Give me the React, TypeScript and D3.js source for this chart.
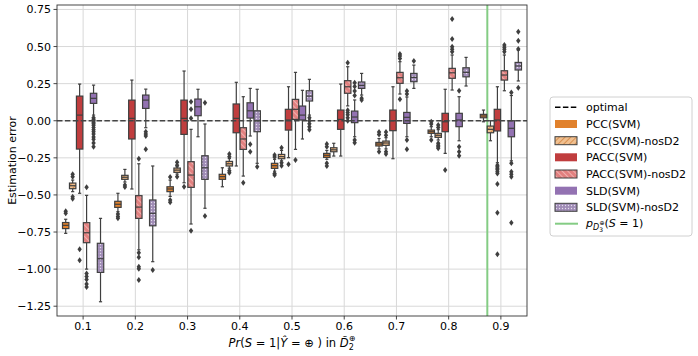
import * as d3 from 'd3'

const categories = ['0.1', '0.2', '0.3', '0.4', '0.5', '0.6', '0.7', '0.8', '0.9']
const methods = ['PCC(SVM)', 'PCC(SVM)-nosD2', 'PACC(SVM)', 'PACC(SVM)-nosD2', 'SLD(SVM)', 'SLD(SVM)-nosD2']
const yTickValues = [-1.25, -1.0, -0.75, -0.5, -0.25, 0.0, 0.25, 0.5, 0.75]
const prevalenceD3 = 0.874

// [whisker low, q1, median, q3, whisker high] per category
const pccStats = [
  [-0.759, -0.727, -0.705, -0.686, -0.664],
  [-0.613, -0.584, -0.563, -0.543, -0.489],
  [-0.51, -0.478, -0.46, -0.445, -0.4],
  [-0.445, -0.395, -0.377, -0.361, -0.317],
  [-0.34, -0.321, -0.303, -0.287, -0.26],
  [-0.26, -0.247, -0.233, -0.22, -0.2],
  [-0.19, -0.17, -0.157, -0.146, -0.12],
  [-0.108, -0.085, -0.074, -0.063, -0.04],
  [-0.007, 0.02, 0.032, 0.043, 0.072],
]
const pccOutliers = [
  [-0.61, -0.624],
  [-0.629, -0.645, -0.658],
  [-0.38, -0.535, -0.55],
  [],
  [-0.231, -0.245, -0.355, -0.366],
  [-0.157, -0.175, -0.287, -0.305],
  [-0.076, -0.092, -0.209],
  [-0.007, -0.022, -0.13],
  [],
]

const pccNosStats = [
  [-0.478, -0.458, -0.438, -0.42, -0.4],
  [-0.413, -0.395, -0.381, -0.368, -0.328],
  [-0.36, -0.348, -0.333, -0.319, -0.31],
  [-0.32, -0.305, -0.29, -0.274, -0.255],
  [-0.27, -0.256, -0.242, -0.227, -0.2],
  [-0.238, -0.209, -0.196, -0.182, -0.152],
  [-0.19, -0.166, -0.15, -0.137, -0.114],
  [-0.13, -0.112, -0.098, -0.085, -0.06],
  [-0.135, -0.081, -0.058, -0.036, 0.0],
]
const pccNosOutliers = [
  [-0.361, -0.377, -0.512, -0.526],
  [-0.433, -0.447],
  [-0.28, -0.3, -0.377],
  [-0.224, -0.243, -0.337, -0.35],
  [-0.182, -0.283, -0.303],
  [],
  [-0.076, -0.097, -0.209, -0.224],
  [-0.029, -0.045, -0.152, -0.165, -0.176, -0.186],
  [],
]

const paccStats = [
  [-0.489, -0.191, 0.038, 0.166, 0.247],
  [-0.46, -0.123, 0.016, 0.139, 0.274],
  [-0.418, -0.092, 0.016, 0.139, 0.335],
  [-0.305, -0.081, 0.016, 0.113, 0.259],
  [-0.249, -0.063, 0.005, 0.077, 0.229],
  [-0.238, -0.058, 0.009, 0.072, 0.247],
  [-0.256, -0.067, 0.0, 0.072, 0.229],
  [-0.22, -0.074, -0.007, 0.05, 0.212],
  [-0.283, -0.069, 0.005, 0.077, 0.229],
]
const paccOutliers = [
  [-0.866, -0.94],
  [],
  [-0.445],
  [],
  [-0.294],
  [],
  [],
  [-0.332],
  [-0.3, -0.31, -0.32, -0.33, -0.344, -0.355, -0.427, -0.62, -0.9],
]

const paccNosStats = [
  [-1.0, -0.822, -0.755, -0.687, -0.503],
  [-0.87, -0.658, -0.582, -0.505, -0.29],
  [-0.696, -0.449, -0.366, -0.276, -0.058],
  [-0.373, -0.193, -0.123, -0.047, 0.162],
  [-0.193, 0.009, 0.077, 0.144, 0.326],
  [0.1, 0.185, 0.229, 0.27, 0.364],
  [0.18, 0.252, 0.29, 0.326, 0.398],
  [0.207, 0.286, 0.323, 0.353, 0.443],
  [0.202, 0.274, 0.308, 0.337, 0.443],
]
const paccNosOutliers = [
  [-0.449, -1.03, -1.05, -1.07, -1.1, -1.12],
  [-0.257, -0.89, -0.92, -0.984, -0.997, -1.073],
  [0.128, 0.077, 0.016, -0.741],
  [-0.418],
  [-0.265],
  [0.39, 0.07, 0.055, 0.04, 0.02, 0.0],
  [0.449, 0.436, 0.42, 0.144],
  [0.685, 0.551, 0.499, 0.481, 0.465],
  [0.51, 0.495, 0.481, 0.465],
]

const sldStats = [
  [0.038, 0.117, 0.151, 0.185, 0.24],
  [-0.047, 0.083, 0.139, 0.173, 0.213],
  [-0.108, 0.034, 0.094, 0.146, 0.212],
  [-0.103, 0.018, 0.067, 0.121, 0.218],
  [-0.123, 0.005, 0.038, 0.099, 0.205],
  [-0.108, -0.013, 0.025, 0.065, 0.14],
  [-0.108, -0.018, 0.023, 0.056, 0.16],
  [-0.135, -0.04, 0.005, 0.05, 0.162],
  [-0.27, -0.108, -0.051, 0.0, 0.17],
]
const sldOutliers = [
  [0.02, 0.01, 0.0, -0.01, -0.02, -0.03, -0.045, -0.06, -0.075, -0.09, -0.11, -0.125, -0.15, -0.175],
  [-0.074, -0.09, -0.103, -0.193],
  [],
  [-0.159, -0.209],
  [],
  [0.17, 0.2, 0.23, 0.256, -0.13, -0.148],
  [0.18, 0.2, -0.13, -0.193],
  [0.202, -0.175, -0.209, -0.236],
  [0.19, -0.287, -0.344, -0.36, -0.377, -0.687],
]

const sldNosStats = [
  [-1.22, -1.022, -0.93, -0.826, -0.658],
  [-0.95, -0.708, -0.624, -0.534, -0.305],
  [-0.59, -0.395, -0.317, -0.236, -0.022],
  [-0.287, -0.074, 0.0, 0.067, 0.212],
  [0.038, 0.133, 0.166, 0.202, 0.279],
  [0.173, 0.218, 0.238, 0.261, 0.319],
  [0.218, 0.263, 0.292, 0.319, 0.375],
  [0.234, 0.296, 0.326, 0.357, 0.427],
  [0.268, 0.342, 0.369, 0.393, 0.476],
]
const sldNosOutliers = [
  [],
  [-1.006],
  [0.121, -0.642],
  [-0.31],
  [0.02, 0.0, -0.02, -0.04, -0.06],
  [0.151, 0.139],
  [0.402],
  [],
  [0.6, 0.539, 0.483, 0.222],
]

const allStats = [pccStats, pccNosStats, paccStats, paccNosStats, sldStats, sldNosStats]
const allOutliers = [pccOutliers, pccNosOutliers, paccOutliers, paccNosOutliers, sldOutliers, sldNosOutliers]
const fills = ['#e1812c', 'url(#hatchPcc)', '#c03d3e', 'url(#hatchPacc)', '#9372b2', 'url(#dotsSld)']

const W = 698
const H = 356
const plot = { left: 57, right: 527, top: 5, bottom: 316 }
const edge = '#3f3f3f'
const font = 'DejaVu Sans, sans-serif'

export default function App() {
  const x = d3.scaleBand().domain(categories).range([plot.left, plot.right]).padding(0)
  const bw = x.bandwidth()
  const hue = d3.scaleBand().domain(methods).range([-0.4 * bw, 0.4 * bw])
  const boxW = hue.bandwidth() * 0.92
  const y = d3.scaleLinear().domain([-1.316, 0.78]).range([plot.bottom, plot.top])
  const xLin = d3
    .scaleLinear()
    .domain([+categories[0], +categories[categories.length - 1]])
    .range([x(categories[0]) + bw / 2, x(categories[categories.length - 1]) + bw / 2])
  const fmt = (v) => d3.format('.2f')(v).replace('-', '\u2212')
  const diamond = (cx, cy) => `M${cx},${cy - 3}L${cx + 2.2},${cy}L${cx},${cy + 3}L${cx - 2.2},${cy}Z`

  const legendRows = [107.3, 124, 140.7, 157.3, 174, 190.7, 207.3, 223.7]

  return (
    <svg width={W} height={H} style={{ position: 'absolute', left: 0, top: 0 }} fontFamily={font}>
      <defs>
        <pattern id="hatchPcc" width="4" height="4" patternUnits="userSpaceOnUse" patternTransform="rotate(45)">
          <rect width="4" height="4" fill="#f0c090" />
          <line x1="0" y1="0" x2="0" y2="4" stroke="#d0803c" strokeWidth="1.5" />
        </pattern>
        <pattern id="hatchPacc" width="4" height="4" patternUnits="userSpaceOnUse" patternTransform="rotate(-45)">
          <rect width="4" height="4" fill="#e2807f" />
          <line x1="0" y1="0" x2="0" y2="4" stroke="#f8d8d8" strokeWidth="1.1" />
        </pattern>
        <pattern id="dotsSld" width="3" height="3" patternUnits="userSpaceOnUse">
          <rect width="3" height="3" fill="#a08cb6" />
          <circle cx="1.5" cy="1.5" r="0.7" fill="#e4dcec" />
        </pattern>
      </defs>

      {/* grid */}
      {categories.map((c) => (
        <line key={'gx' + c} x1={x(c) + bw / 2} x2={x(c) + bw / 2} y1={plot.top} y2={plot.bottom} stroke="#d8d8d8" strokeWidth={1} />
      ))}
      {yTickValues.map((v) => (
        <line key={'gy' + v} x1={plot.left} x2={plot.right} y1={y(v)} y2={y(v)} stroke="#d8d8d8" strokeWidth={1} />
      ))}

      {/* prevalence line */}
      <line x1={xLin(prevalenceD3)} x2={xLin(prevalenceD3)} y1={plot.top} y2={plot.bottom} stroke="#84cc84" strokeWidth={2} />

      {/* boxes */}
      {methods.map((m, mi) =>
        categories.map((c, ci) => {
          const [lo, q1, med, q3, hi] = allStats[mi][ci]
          const cx = x(c) + bw / 2 + hue(m) + hue.bandwidth() / 2
          const capW = boxW / 2
          return (
            <g key={m + c}>
              <line x1={cx} x2={cx} y1={y(q1)} y2={y(lo)} stroke={edge} strokeWidth={1.2} />
              <line x1={cx} x2={cx} y1={y(q3)} y2={y(hi)} stroke={edge} strokeWidth={1.2} />
              <line x1={cx - capW / 2} x2={cx + capW / 2} y1={y(lo)} y2={y(lo)} stroke={edge} strokeWidth={1.2} />
              <line x1={cx - capW / 2} x2={cx + capW / 2} y1={y(hi)} y2={y(hi)} stroke={edge} strokeWidth={1.2} />
              <rect x={cx - boxW / 2} y={y(q3)} width={boxW} height={y(q1) - y(q3)} fill={fills[mi]} stroke={edge} strokeWidth={1.2} />
              <line x1={cx - boxW / 2} x2={cx + boxW / 2} y1={y(med)} y2={y(med)} stroke={edge} strokeWidth={1.2} />
              {allOutliers[mi][ci].map((o, oi) => (
                <path key={oi} d={diamond(cx, y(o))} fill={edge} />
              ))}
            </g>
          )
        })
      )}

      {/* optimal line */}
      <line x1={plot.left} x2={plot.right} y1={y(0)} y2={y(0)} stroke="#444" strokeWidth={1.5} strokeDasharray="5.5,2.4" />

      {/* spines */}
      <rect x={plot.left} y={plot.top} width={plot.right - plot.left} height={plot.bottom - plot.top} fill="none" stroke="#333" strokeWidth={0.9} />

      {/* y axis */}
      {yTickValues.map((v) => (
        <g key={'yt' + v}>
          <line x1={plot.left - 3.5} x2={plot.left} y1={y(v)} y2={y(v)} stroke="#333" strokeWidth={0.9} />
          <text x={plot.left - 6} y={y(v) + 4} textAnchor="end" fontSize={11} fill="#000">
            {fmt(v)}
          </text>
        </g>
      ))}
      <text transform={`translate(16,${(plot.top + plot.bottom) / 2}) rotate(-90)`} textAnchor="middle" fontSize={11} fill="#000">
        Estimation error
      </text>

      {/* x axis */}
      {categories.map((c) => (
        <g key={'xt' + c}>
          <line x1={x(c) + bw / 2} x2={x(c) + bw / 2} y1={plot.bottom} y2={plot.bottom + 3.5} stroke="#333" strokeWidth={0.9} />
          <text x={x(c) + bw / 2} y={plot.bottom + 14} textAnchor="middle" fontSize={11} fill="#000">
            {c}
          </text>
        </g>
      ))}
      <text x={(plot.left + plot.right) / 2} y={347} textAnchor="middle" fontSize={11.5} fill="#000">
        <tspan fontStyle="italic">Pr</tspan>(<tspan fontStyle="italic">S</tspan> = 1|<tspan fontStyle="italic">{'\u0176'}</tspan> = {'\u2295'} ) in{' '}
        <tspan fontStyle="italic">{'D\u0303'}</tspan>
        <tspan dy={3} fontSize={8}>2</tspan>
        <tspan dx={-5} dy={-9} fontSize={8}>{'\u2295'}</tspan>
      </text>

      {/* legend */}
      <rect x={550} y={97} width={142} height={139} rx={3} fill="#fff" fillOpacity={0.8} stroke="#d0d0d0" strokeWidth={1} />
      <line x1={555} x2={578} y1={legendRows[0]} y2={legendRows[0]} stroke="#000" strokeWidth={1.5} strokeDasharray="5.5,2.4" />
      {methods.map((m, mi) => (
        <rect key={'lh' + m} x={555} y={legendRows[mi + 1] - 4} width={22} height={8} fill={fills[mi]} stroke={edge} strokeWidth={mi % 2 === 1 ? 1 : 0} />
      ))}
      <line x1={555} x2={578} y1={legendRows[7]} y2={legendRows[7]} stroke="#84cc84" strokeWidth={2} />
      {['optimal', ...methods].map((t, i) => (
        <text key={'lt' + t} x={586} y={legendRows[i] + 4} fontSize={11} fill="#000">
          {t}
        </text>
      ))}
      <text x={586} y={legendRows[7] + 3} fontSize={11} fill="#000">
        <tspan fontStyle="italic">p</tspan>
        <tspan dy={3} fontSize={8} fontStyle="italic">D</tspan>
        <tspan dy={2} fontSize={6}>3</tspan>
        <tspan dx={-3.5} dy={-7} fontSize={6}>{'\u2295'}</tspan>
        <tspan dy={2}>(</tspan>
        <tspan fontStyle="italic">S</tspan>
        <tspan> = 1)</tspan>
      </text>
    </svg>
  )
}
